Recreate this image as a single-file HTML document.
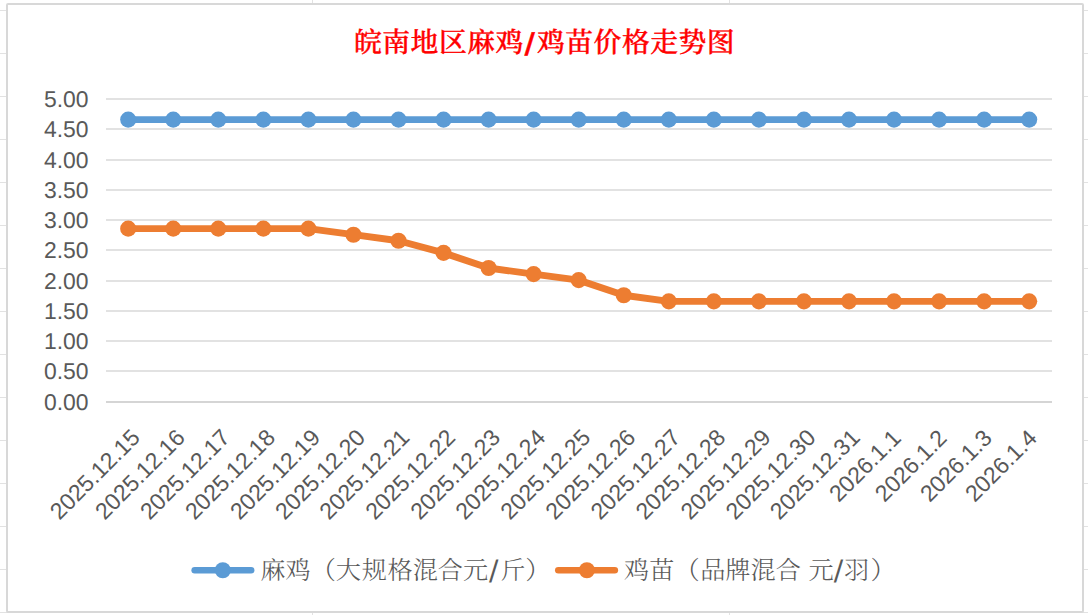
<!DOCTYPE html>
<html lang="zh-CN"><head><meta charset="utf-8"><title>皖南地区麻鸡/鸡苗价格走势图</title>
<style>
html,body{margin:0;padding:0;background:#fff;}
body{width:1088px;height:615px;overflow:hidden;}
svg{display:block;}
text{text-rendering:geometricPrecision;}
.ax{font-family:"Liberation Sans","DejaVu Sans",sans-serif;font-size:22.9px;fill:#595959;}
.xl{font-size:23.1px;}
.lg{font-family:"Noto Serif CJK SC","Liberation Serif",serif;font-weight:300;font-size:25.2px;fill:#595959;}
.sl{font-family:"DejaVu Sans","Liberation Sans",sans-serif;font-weight:400;font-size:28px;}
.tsl{font-family:"DejaVu Sans","Liberation Sans",sans-serif;font-weight:700;font-size:28.5px;}
.ttl{font-family:"Noto Serif CJK SC","Liberation Serif",serif;font-weight:500;font-size:27.8px;fill:#ff0000;stroke:#ff0000;stroke-width:0.4px;}
</style></head><body>
<svg width="1088" height="615" viewBox="0 0 1088 615">
<rect x="0" y="0" width="1088" height="615" fill="#ffffff"/>

<g stroke="#e2e2e2" stroke-width="1" shape-rendering="crispEdges">
<line x1="0" y1="10.5" x2="1088" y2="10.5"/>
<line x1="0" y1="53.5" x2="1088" y2="53.5"/>
<line x1="0" y1="96.5" x2="1088" y2="96.5"/>
<line x1="0" y1="139.5" x2="1088" y2="139.5"/>
<line x1="0" y1="182.5" x2="1088" y2="182.5"/>
<line x1="0" y1="225.5" x2="1088" y2="225.5"/>
<line x1="0" y1="268.5" x2="1088" y2="268.5"/>
<line x1="0" y1="311.5" x2="1088" y2="311.5"/>
<line x1="0" y1="354.5" x2="1088" y2="354.5"/>
<line x1="0" y1="397.5" x2="1088" y2="397.5"/>
<line x1="0" y1="440.5" x2="1088" y2="440.5"/>
<line x1="0" y1="483.5" x2="1088" y2="483.5"/>
<line x1="0" y1="526.5" x2="1088" y2="526.5"/>
<line x1="0" y1="569.5" x2="1088" y2="569.5"/>
<line x1="0" y1="612.5" x2="1088" y2="612.5"/>
<line x1="312.5" y1="0" x2="312.5" y2="615"/>
<line x1="729.5" y1="0" x2="729.5" y2="615"/>
</g>
<rect x="7" y="4" width="1076" height="608" fill="#ffffff" stroke="#d8d8d8" stroke-width="2" rx="1"/>
<g fill="#e2e2e2" shape-rendering="crispEdges">
<rect x="106" y="401" width="946" height="2" fill="#d5d5d5"/>
<rect x="106" y="370" width="946" height="2"/>
<rect x="106" y="340" width="946" height="2"/>
<rect x="106" y="310" width="946" height="2"/>
<rect x="106" y="280" width="946" height="2"/>
<rect x="106" y="249" width="946" height="2"/>
<rect x="106" y="219" width="946" height="2"/>
<rect x="106" y="189" width="946" height="2"/>
<rect x="106" y="159" width="946" height="2"/>
<rect x="106" y="128" width="946" height="2"/>
<rect x="106" y="98" width="946" height="2"/>
</g>
<g class="ax" text-anchor="end">
<text x="88.5" y="410.00">0.00</text>
<text x="88.5" y="379.00">0.50</text>
<text x="88.5" y="349.00">1.00</text>
<text x="88.5" y="319.00">1.50</text>
<text x="88.5" y="289.00">2.00</text>
<text x="88.5" y="258.00">2.50</text>
<text x="88.5" y="228.00">3.00</text>
<text x="88.5" y="198.00">3.50</text>
<text x="88.5" y="168.00">4.00</text>
<text x="88.5" y="137.00">4.50</text>
<text x="88.5" y="107.00">5.00</text>
</g>
<polyline points="128.22,119.60 173.27,119.60 218.32,119.60 263.37,119.60 308.41,119.60 353.46,119.60 398.51,119.60 443.56,119.60 488.60,119.60 533.65,119.60 578.70,119.60 623.75,119.60 668.80,119.60 713.84,119.60 758.89,119.60 803.94,119.60 848.99,119.60 894.03,119.60 939.08,119.60 984.13,119.60 1029.18,119.60" fill="none" stroke="#5b9bd5" stroke-width="6.9" stroke-linejoin="round" stroke-linecap="round"/>
<g fill="#5b9bd5">
<circle cx="128.22" cy="119.60" r="8.05"/>
<circle cx="173.27" cy="119.60" r="8.05"/>
<circle cx="218.32" cy="119.60" r="8.05"/>
<circle cx="263.37" cy="119.60" r="8.05"/>
<circle cx="308.41" cy="119.60" r="8.05"/>
<circle cx="353.46" cy="119.60" r="8.05"/>
<circle cx="398.51" cy="119.60" r="8.05"/>
<circle cx="443.56" cy="119.60" r="8.05"/>
<circle cx="488.60" cy="119.60" r="8.05"/>
<circle cx="533.65" cy="119.60" r="8.05"/>
<circle cx="578.70" cy="119.60" r="8.05"/>
<circle cx="623.75" cy="119.60" r="8.05"/>
<circle cx="668.80" cy="119.60" r="8.05"/>
<circle cx="713.84" cy="119.60" r="8.05"/>
<circle cx="758.89" cy="119.60" r="8.05"/>
<circle cx="803.94" cy="119.60" r="8.05"/>
<circle cx="848.99" cy="119.60" r="8.05"/>
<circle cx="894.03" cy="119.60" r="8.05"/>
<circle cx="939.08" cy="119.60" r="8.05"/>
<circle cx="984.13" cy="119.60" r="8.05"/>
<circle cx="1029.18" cy="119.60" r="8.05"/>
</g>
<polyline points="128.22,228.65 173.27,228.65 218.32,228.65 263.37,228.65 308.41,228.65 353.46,234.70 398.51,240.76 443.56,252.88 488.60,268.02 533.65,274.08 578.70,280.14 623.75,295.28 668.80,301.34 713.84,301.34 758.89,301.34 803.94,301.34 848.99,301.34 894.03,301.34 939.08,301.34 984.13,301.34 1029.18,301.34" fill="none" stroke="#ed7d31" stroke-width="6.9" stroke-linejoin="round" stroke-linecap="round"/>
<g fill="#ed7d31">
<circle cx="128.22" cy="228.65" r="8.05"/>
<circle cx="173.27" cy="228.65" r="8.05"/>
<circle cx="218.32" cy="228.65" r="8.05"/>
<circle cx="263.37" cy="228.65" r="8.05"/>
<circle cx="308.41" cy="228.65" r="8.05"/>
<circle cx="353.46" cy="234.70" r="8.05"/>
<circle cx="398.51" cy="240.76" r="8.05"/>
<circle cx="443.56" cy="252.88" r="8.05"/>
<circle cx="488.60" cy="268.02" r="8.05"/>
<circle cx="533.65" cy="274.08" r="8.05"/>
<circle cx="578.70" cy="280.14" r="8.05"/>
<circle cx="623.75" cy="295.28" r="8.05"/>
<circle cx="668.80" cy="301.34" r="8.05"/>
<circle cx="713.84" cy="301.34" r="8.05"/>
<circle cx="758.89" cy="301.34" r="8.05"/>
<circle cx="803.94" cy="301.34" r="8.05"/>
<circle cx="848.99" cy="301.34" r="8.05"/>
<circle cx="894.03" cy="301.34" r="8.05"/>
<circle cx="939.08" cy="301.34" r="8.05"/>
<circle cx="984.13" cy="301.34" r="8.05"/>
<circle cx="1029.18" cy="301.34" r="8.05"/>
</g>
<g class="ax xl" text-anchor="end">
<text transform="translate(141.32,439) rotate(-45)">2025.12.15</text>
<text transform="translate(186.37,439) rotate(-45)">2025.12.16</text>
<text transform="translate(231.42,439) rotate(-45)">2025.12.17</text>
<text transform="translate(276.47,439) rotate(-45)">2025.12.18</text>
<text transform="translate(321.51,439) rotate(-45)">2025.12.19</text>
<text transform="translate(366.56,439) rotate(-45)">2025.12.20</text>
<text transform="translate(410.81,439) rotate(-45)">2025.12.21</text>
<text transform="translate(456.66,439) rotate(-45)">2025.12.22</text>
<text transform="translate(501.70,439) rotate(-45)">2025.12.23</text>
<text transform="translate(546.75,439) rotate(-45)">2025.12.24</text>
<text transform="translate(591.80,439) rotate(-45)">2025.12.25</text>
<text transform="translate(636.85,439) rotate(-45)">2025.12.26</text>
<text transform="translate(681.90,439) rotate(-45)">2025.12.27</text>
<text transform="translate(726.94,439) rotate(-45)">2025.12.28</text>
<text transform="translate(771.99,439) rotate(-45)">2025.12.29</text>
<text transform="translate(817.04,439) rotate(-45)">2025.12.30</text>
<text transform="translate(861.29,439) rotate(-45)">2025.12.31</text>
<text transform="translate(902.33,439.5) rotate(-45)">2026.1.1</text>
<text transform="translate(948.18,439.5) rotate(-45)">2026.1.2</text>
<text transform="translate(993.23,439.5) rotate(-45)">2026.1.3</text>
<text transform="translate(1038.28,439.5) rotate(-45)">2026.1.4</text>
</g>
<text class="ttl" x="354.0 382.3 410.6 438.9 467.2 495.5 523.8 537.0 565.3 593.6 621.9 650.2 678.5 706.8" y="52.1">皖南地区麻鸡<tspan class="tsl" dx="0.8" dy="0.8">/</tspan><tspan dy="-0.8">鸡苗价格走势图</tspan></text>
<line x1="194.7" y1="570.2" x2="251.1" y2="570.2" stroke="#5b9bd5" stroke-width="6.6" stroke-linecap="round"/><circle cx="222.8" cy="570.2" r="8.05" fill="#5b9bd5"/>
<line x1="558.3" y1="570.2" x2="614.8" y2="570.2" stroke="#ed7d31" stroke-width="6.6" stroke-linecap="round"/><circle cx="586.9" cy="570.2" r="8.05" fill="#ed7d31"/>
<text class="lg" x="260.3" y="578.9">麻鸡（大<tspan dx="0.8">规</tspan><tspan dx="0.4">格混合元</tspan><tspan class="sl" dx="0.85" dy="1.1">/</tspan><tspan dx="1.65" dy="-1.1">斤）</tspan></text>
<text class="lg" x="624.0" y="578.9">鸡苗（<tspan dx="0.6">品牌混合 </tspan><tspan dx="1">元</tspan><tspan class="sl" dx="0.2" dy="1.1">/</tspan><tspan dx="0.7" dy="-1.1">羽</tspan><tspan dx="1.4">）</tspan></text>
</svg></body></html>
